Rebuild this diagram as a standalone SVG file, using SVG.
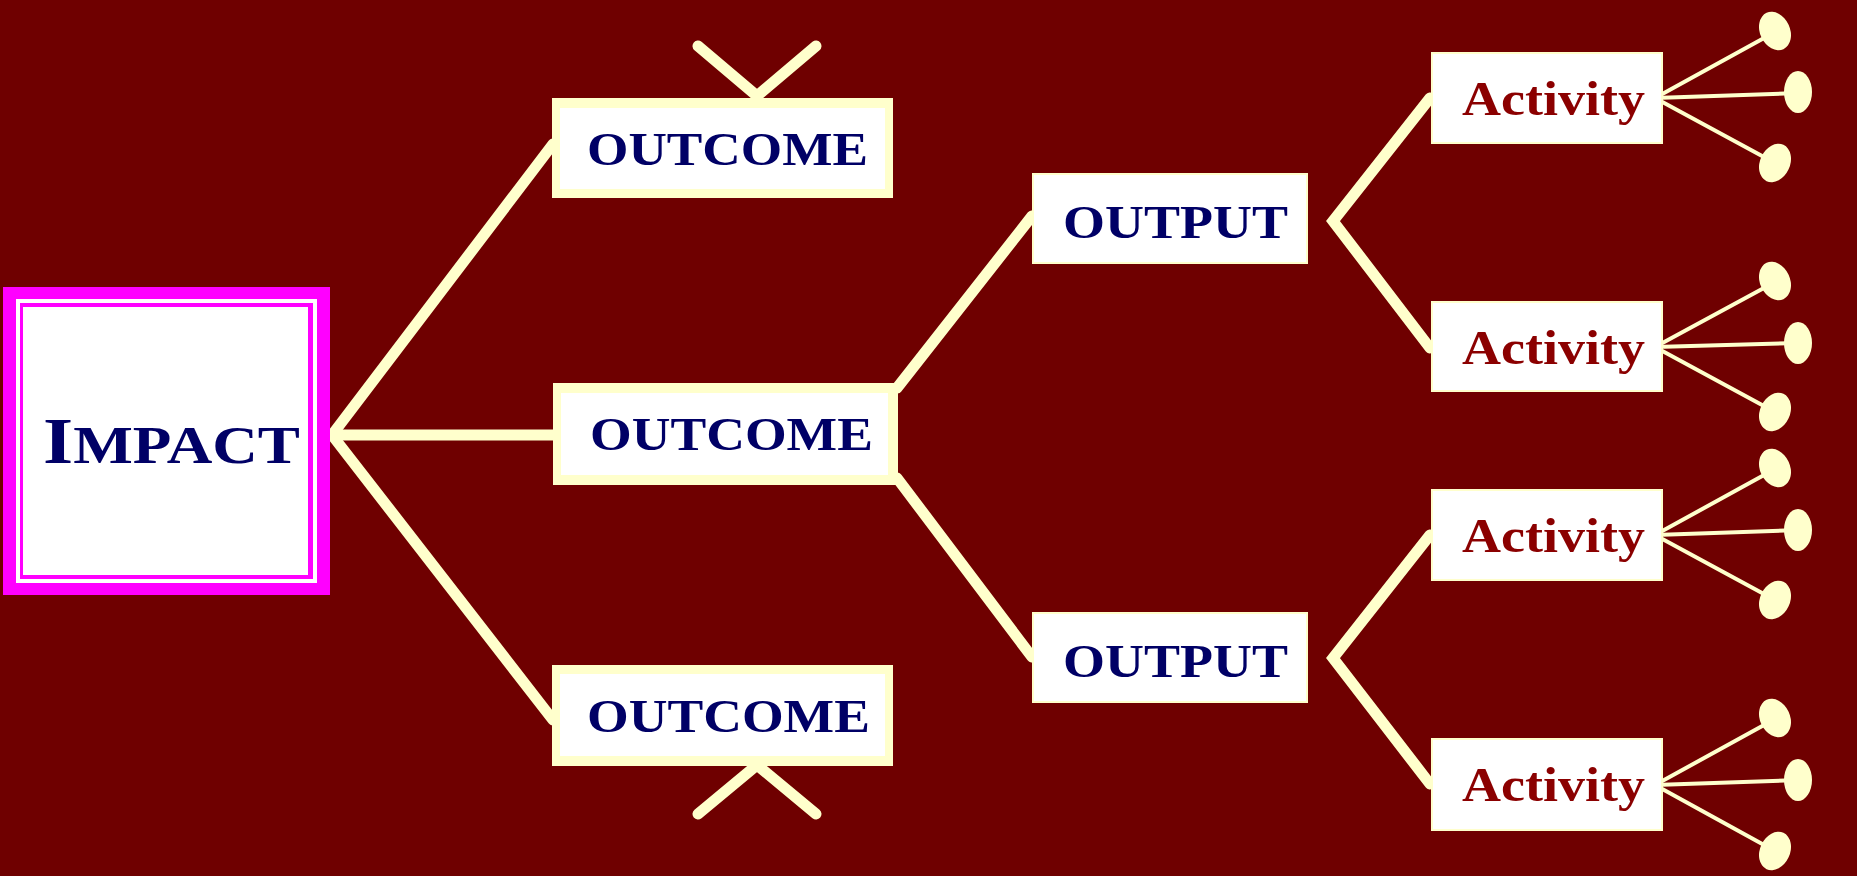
<svg xmlns="http://www.w3.org/2000/svg" width="1857" height="876" viewBox="0 0 1857 876">
  <style>
    .bg { fill: #6f0000; }
    .link { stroke: #ffffcc; stroke-width: 11; fill: none; stroke-linecap: round; }
    .leafline { stroke: #ffffcc; stroke-width: 4; fill: none; stroke-linecap: round; }
    .leaf { fill: #ffffcc; }
    .cream { fill: #ffffcc; }
    .white { fill: #ffffff; }
    .plain { fill: #ffffff; stroke: #ffffcc; stroke-width: 2; }
    .navy { font-family: "Liberation Serif", "Times New Roman", serif; font-weight: bold; fill: #000066; }
    .act { font-family: "Liberation Serif", "Times New Roman", serif; font-weight: bold; fill: #8b0000; font-size: 48px; }
  </style>

  <rect class="bg" x="0" y="0" width="1857" height="876"/>

  <!-- connectors -->
  <g id="connectors">
    <!-- impact to outcomes -->
    <line class="link" x1="332" y1="435" x2="553" y2="144"/>
    <line class="link" x1="332" y1="435" x2="555" y2="435"/>
    <line class="link" x1="332" y1="435" x2="553" y2="720"/>
    <!-- stubs above and below the outer outcomes -->
    <polyline class="link" points="698,46 757,96 816,46" stroke-width="7"/>
    <polyline class="link" points="698,814 757,765 816,814" stroke-width="7"/>
    <!-- middle outcome to outputs -->
    <line class="link" x1="897" y1="388" x2="1032" y2="216"/>
    <line class="link" x1="897" y1="478" x2="1032" y2="657"/>
    <!-- outputs to activities -->
    <polyline class="link" points="1430,98 1333,221 1430,348"/>
    <polyline class="link" points="1430,535 1333,658 1430,784"/>
    <!-- activity leaves -->
    <g id="leaves-1">
      <line class="leafline" x1="1655" y1="98" x2="1775" y2="32"/>
      <line class="leafline" x1="1655" y1="98" x2="1798" y2="93"/>
      <line class="leafline" x1="1655" y1="98" x2="1775" y2="163"/>
      <ellipse class="leaf" cx="1775" cy="31" rx="15" ry="20" transform="rotate(-25 1775 31)"/>
      <ellipse class="leaf" cx="1798" cy="92" rx="14" ry="21"/>
      <ellipse class="leaf" cx="1775" cy="163" rx="15" ry="20" transform="rotate(25 1775 163)"/>
    </g>
    <g id="leaves-2">
      <line class="leafline" x1="1655" y1="347" x2="1775" y2="282"/>
      <line class="leafline" x1="1655" y1="347" x2="1798" y2="343"/>
      <line class="leafline" x1="1655" y1="347" x2="1775" y2="412"/>
      <ellipse class="leaf" cx="1775" cy="281" rx="15" ry="20" transform="rotate(-25 1775 281)"/>
      <ellipse class="leaf" cx="1798" cy="343" rx="14" ry="21"/>
      <ellipse class="leaf" cx="1775" cy="412" rx="15" ry="20" transform="rotate(25 1775 412)"/>
    </g>
    <g id="leaves-3">
      <line class="leafline" x1="1655" y1="535" x2="1775" y2="469"/>
      <line class="leafline" x1="1655" y1="535" x2="1798" y2="530"/>
      <line class="leafline" x1="1655" y1="535" x2="1775" y2="600"/>
      <ellipse class="leaf" cx="1775" cy="468" rx="15" ry="20" transform="rotate(-25 1775 468)"/>
      <ellipse class="leaf" cx="1798" cy="530" rx="14" ry="21"/>
      <ellipse class="leaf" cx="1775" cy="600" rx="15" ry="20" transform="rotate(25 1775 600)"/>
    </g>
    <g id="leaves-4">
      <line class="leafline" x1="1655" y1="785" x2="1775" y2="719"/>
      <line class="leafline" x1="1655" y1="785" x2="1798" y2="780"/>
      <line class="leafline" x1="1655" y1="785" x2="1775" y2="851"/>
      <ellipse class="leaf" cx="1775" cy="718" rx="15" ry="20" transform="rotate(-25 1775 718)"/>
      <ellipse class="leaf" cx="1798" cy="780" rx="14" ry="21"/>
      <ellipse class="leaf" cx="1775" cy="851" rx="15" ry="20" transform="rotate(25 1775 851)"/>
    </g>
  </g>

  <!-- impact -->
  <g id="impact">
    <rect x="3" y="287" width="327" height="308" fill="#ff00ff"/>
    <rect x="16" y="299" width="301" height="284" fill="#ffffff"/>
    <rect x="20" y="303" width="293" height="276" fill="#ff00ff"/>
    <rect x="23" y="307" width="285" height="268" fill="#ffffff"/>
    <text class="navy" x="43" y="463" textLength="257" lengthAdjust="spacingAndGlyphs"><tspan font-size="65">I</tspan><tspan font-size="53">MPACT</tspan></text>
  </g>

  <!-- outcomes -->
  <g id="outcome-top">
    <rect class="cream" x="552" y="98" width="341" height="100"/>
    <rect class="white" x="560" y="108" width="325" height="81"/>
    <text class="navy" x="587" y="165" font-size="47" textLength="281" lengthAdjust="spacingAndGlyphs">OUTCOME</text>
  </g>
  <g id="outcome-middle">
    <rect class="cream" x="553" y="383" width="345" height="102"/>
    <rect class="white" x="561" y="393" width="327" height="82"/>
    <text class="navy" x="590" y="450" font-size="47" textLength="283" lengthAdjust="spacingAndGlyphs">OUTCOME</text>
  </g>
  <g id="outcome-bottom">
    <rect class="cream" x="552" y="665" width="341" height="101"/>
    <rect class="white" x="560" y="674" width="325" height="82"/>
    <text class="navy" x="587" y="732" font-size="47" textLength="283" lengthAdjust="spacingAndGlyphs">OUTCOME</text>
  </g>

  <!-- outputs -->
  <g id="output-top">
    <rect class="plain" x="1033" y="174" width="274" height="89"/>
    <text class="navy" x="1063" y="238" font-size="47" textLength="225" lengthAdjust="spacingAndGlyphs">OUTPUT</text>
  </g>
  <g id="output-bottom">
    <rect class="plain" x="1033" y="613" width="274" height="89"/>
    <text class="navy" x="1063" y="677" font-size="47" textLength="225" lengthAdjust="spacingAndGlyphs">OUTPUT</text>
  </g>

  <!-- activities -->
  <g id="activity-1">
    <rect class="plain" x="1432" y="53" width="230" height="90"/>
    <text class="act" x="1462" y="115" textLength="183" lengthAdjust="spacingAndGlyphs">Activity</text>
  </g>
  <g id="activity-2">
    <rect class="plain" x="1432" y="302" width="230" height="89"/>
    <text class="act" x="1462" y="364" textLength="183" lengthAdjust="spacingAndGlyphs">Activity</text>
  </g>
  <g id="activity-3">
    <rect class="plain" x="1432" y="490" width="230" height="90"/>
    <text class="act" x="1462" y="552" textLength="183" lengthAdjust="spacingAndGlyphs">Activity</text>
  </g>
  <g id="activity-4">
    <rect class="plain" x="1432" y="739" width="230" height="91"/>
    <text class="act" x="1462" y="801" textLength="183" lengthAdjust="spacingAndGlyphs">Activity</text>
  </g>
</svg>
